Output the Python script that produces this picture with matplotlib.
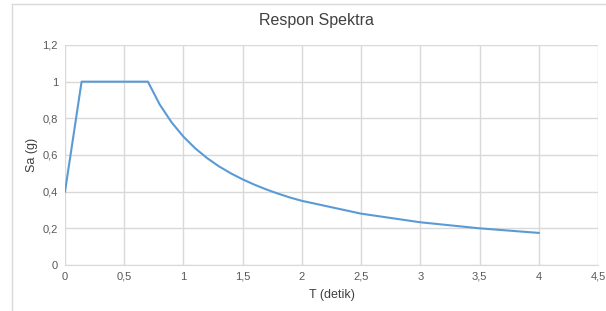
import matplotlib.pyplot as plt
from matplotlib.lines import Line2D
from matplotlib.ticker import FuncFormatter

# periode T (detik) dan percepatan spektra Sa (g)
T = [0, 0.14, 0.7, 0.8, 0.9, 1.0, 1.1, 1.2, 1.3, 1.4, 1.5, 1.6, 1.7, 1.8, 1.9, 2.0,
     2.5, 3.0, 3.5, 4.0]
Sa = [0.4, 1.0, 1.0, 0.875, 0.778, 0.70, 0.636, 0.583, 0.538, 0.50, 0.467, 0.438,
      0.412, 0.389, 0.368, 0.35, 0.28, 0.233, 0.20, 0.175]

plt.rcParams['font.family'] = ['Liberation Sans', 'DejaVu Sans']

fig = plt.figure(figsize=(6.06, 3.11), dpi=100)
ax = fig.add_axes([65 / 606, 1 - 265 / 311, 533 / 606, 220 / 311])

ax.plot(T, Sa, color='#5b9bd5', linewidth=1.5)

ax.set_xlim(0, 4.5)
ax.set_ylim(0, 1.2)
ax.set_xticks([i * 0.5 for i in range(10)])
ax.set_yticks([i * 0.2 for i in range(7)])
comma = FuncFormatter(lambda v, p: ('%g' % round(v, 2)).replace('.', ','))
ax.xaxis.set_major_formatter(comma)
ax.yaxis.set_major_formatter(comma)
ax.tick_params(length=0, labelsize=8, colors='#595959', pad=5)

ax.grid(True, color='#d9d9d9', linewidth=1)
ax.set_axisbelow(True)
for s in ['top', 'right', 'left']:
    ax.spines[s].set_visible(False)
ax.spines['bottom'].set_color('#d9d9d9')

ax.set_xlabel('T (detik)', fontsize=9, color='#404040', labelpad=5)
ax.set_ylabel('Sa (g)', fontsize=9, color='#404040', labelpad=3)
fig.text(316 / 606, 1 - 20 / 311, 'Respon Spektra', ha='center', va='center',
         fontsize=11.5, color='#404040')

# bingkai chart
fig.add_artist(Line2D([12 / 606, 12 / 606], [0, 1 - 4 / 311], color='#d9d9d9', linewidth=1))
fig.add_artist(Line2D([12 / 606, 1], [1 - 4 / 311, 1 - 4 / 311], color='#d9d9d9', linewidth=1))

fig.savefig('out.png', dpi=100, facecolor='white')
